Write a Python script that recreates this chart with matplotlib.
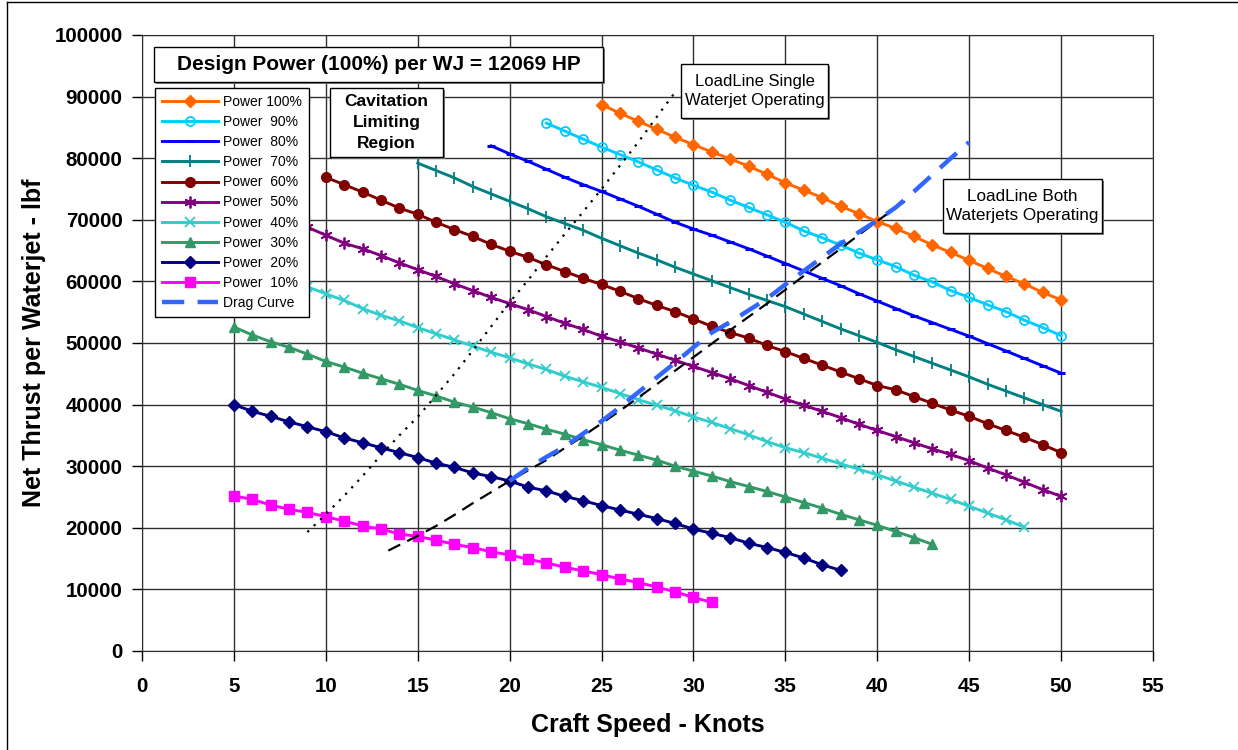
import matplotlib
matplotlib.use('Agg')
from matplotlib import pyplot as plt
from matplotlib.patches import Rectangle
from matplotlib.lines import Line2D

plt.rcParams['font.family'] = ['Liberation Sans', 'DejaVu Sans']

# Net thrust per waterjet (lbf) vs craft speed (knots), one list per power level
speed_100 = list(range(25, 51))
thrust_100 = [88700, 87300, 86000, 84700, 83400, 82200, 81000, 79900, 78700, 77400,
              76000, 74800, 73600, 72200, 71000, 69700, 68600, 67300, 65900, 64700,
              63400, 62100, 60800, 59600, 58200, 57000]

speed_90 = list(range(22, 51))
thrust_90 = [85700, 84400, 83100, 81800, 80600, 79400, 78100, 76800, 75600, 74500,
             73200, 72000, 70800, 69600, 68200, 67100, 65900, 64600, 63500, 62400,
             61000, 59900, 58500, 57400, 56200, 55100, 53700, 52500, 51200]

speed_80 = list(range(19, 51))
thrust_80 = [82000, 80700, 79500, 78200, 76900, 75700, 74600, 73400, 72200, 70900,
             69600, 68500, 67500, 66400, 65300, 64100, 62900, 61700, 60500, 59300,
             58000, 56800, 55600, 54400, 53300, 52200, 51100, 49900, 48700, 47500,
             46300, 45100]

speed_70 = list(range(15, 51))
thrust_70 = [79200, 78000, 76800, 75400, 74200, 73000, 71800, 70500, 69400, 68300,
             67000, 65800, 64600, 63500, 62300, 61200, 60100, 59000, 57900, 56900,
             55900, 54700, 53500, 52300, 51200, 50100, 48900, 47800, 46700, 45600,
             44500, 43300, 42200, 41100, 40000, 38900]

speed_60 = list(range(10, 51))
thrust_60 = [76900, 75700, 74500, 73200, 71900, 70900, 69600, 68400, 67300, 66000,
             64900, 63900, 62700, 61600, 60500, 59500, 58400, 57200, 56100, 55100,
             53900, 52700, 51700, 50800, 49600, 48600, 47500, 46400, 45300, 44200,
             43100, 42400, 41300, 40200, 39100, 38100, 36900, 35800, 34700, 33500,
             32200]

speed_50 = list(range(5, 51))
thrust_50 = [73300, 72200, 71100, 69900, 68800, 67500, 66200, 65300, 64200, 63000,
             61900, 60800, 59600, 58500, 57400, 56400, 55400, 54300, 53200, 52200,
             51100, 50200, 49200, 48200, 47200, 46200, 45200, 44200, 43100, 42000,
             40900, 39900, 38900, 37900, 36800, 35800, 34800, 33800, 32800, 31900,
             30900, 29700, 28600, 27400, 26200, 25100]

speed_40 = list(range(5, 49))
thrust_40 = [63500, 62400, 61300, 60200, 59100, 58000, 56900, 55600, 54500, 53600,
             52500, 51500, 50500, 49500, 48500, 47600, 46600, 45700, 44600, 43700,
             42800, 41800, 40800, 39900, 39000, 38000, 37100, 36100, 35100, 34000,
             33000, 32200, 31300, 30400, 29500, 28600, 27600, 26600, 25600, 24600,
             23500, 22400, 21300, 20100]

speed_30 = list(range(5, 44))
thrust_30 = [52600, 51300, 50200, 49300, 48200, 47000, 46100, 45100, 44200, 43300,
             42300, 41400, 40400, 39600, 38700, 37700, 36900, 36000, 35200, 34300,
             33500, 32600, 31800, 31000, 30000, 29200, 28400, 27500, 26700, 25900,
             25000, 24100, 23200, 22200, 21300, 20400, 19400, 18400, 17300]

speed_20 = list(range(5, 39))
thrust_20 = [40000, 38900, 38100, 37200, 36400, 35600, 34600, 33800, 33000, 32200,
             31400, 30500, 29800, 28900, 28300, 27600, 26600, 26000, 25100, 24400,
             23600, 22900, 22200, 21500, 20700, 19800, 19100, 18400, 17500, 16800,
             16000, 15100, 14000, 13100]

speed_10 = list(range(5, 32))
thrust_10 = [25200, 24600, 23700, 23000, 22500, 21800, 21100, 20300, 19800, 19000,
             18600, 18000, 17300, 16800, 16100, 15600, 14900, 14300, 13600, 13000,
             12400, 11700, 11100, 10400, 9600, 8700, 7900]

drag_speed = list(range(20, 46))
drag_thrust = [27600, 29700, 31500, 33200, 35300, 37300, 39600, 42000, 44400, 46800,
               49300, 51700, 53400, 55300, 57200, 59500, 61700, 63900, 66100, 68000,
               69900, 72000, 74600, 77300, 80000, 82600]

# load line, both waterjets operating
both_speed = [13.4, 15, 16, 17, 18, 19, 20, 22, 24, 26, 28, 30, 32, 34, 36, 38, 40, 41.5]
both_thrust = [16300, 18700, 20300, 22100, 24000, 25800, 27600, 31000, 34900, 39000,
               43300, 47700, 52100, 56400, 60900, 65300, 69800, 73000]

# load line, single waterjet operating
single_speed = list(range(9, 30))
single_thrust = [19300, 22200, 25200, 28400, 31800, 35000, 38000, 41500, 45000, 48800,
                 52700, 56600, 60200, 64000, 67700, 71300, 75000, 78800, 82600, 86700,
                 90700]

series = [
    ('Power 100%', speed_100, thrust_100, '#FF6600', dict(marker='D', ms=6.3)),
    ('Power  90%', speed_90, thrust_90, '#00CCFF', dict(marker='o', ms=6.5, mfc='none', mew=1.3)),
    ('Power  80%', speed_80, thrust_80, '#0000FF', dict(marker='_', ms=6, mew=2.2)),
    ('Power  70%', speed_70, thrust_70, '#008080', dict(marker='|', ms=8.5, mew=1.3)),
    ('Power  60%', speed_60, thrust_60, '#800000', dict(marker='o', ms=7)),
    ('Power  50%', speed_50, thrust_50, '#800080', dict(marker=(6, 2, 0), ms=8.5, mew=1.3)),
    ('Power  40%', speed_40, thrust_40, '#33CCCC', dict(marker='x', ms=6.5, mew=1.3)),
    ('Power  30%', speed_30, thrust_30, '#339966', dict(marker='^', ms=7.5)),
    ('Power  20%', speed_20, thrust_20, '#000080', dict(marker='D', ms=6.3)),
    ('Power  10%', speed_10, thrust_10, '#FF00FF', dict(marker='s', ms=7)),
]

W, H = 1238, 750
fig = plt.figure(figsize=(W / 100, H / 100), dpi=100)
ax = fig.add_axes([142 / W, 1 - 651 / H, 1011 / W, 616 / H])

for label, xs, ys, col, mk in series:
    ax.plot(xs, ys, color=col, lw=2.1, label=label, zorder=3, **mk)

ax.plot(drag_speed, drag_thrust, color='#3366FF', lw=3.2, dashes=(5, 3),
        label='Drag Curve', zorder=5)
ax.plot(both_speed, both_thrust, color='black', lw=1.6, dashes=(6, 3.5), zorder=4)
ax.plot(single_speed, single_thrust, color='black', lw=1.6, dashes=(1, 3), zorder=4)

ax.set_xlim(0, 55)
ax.set_ylim(0, 100000)
ax.set_xticks(range(0, 56, 5))
ax.set_yticks(range(0, 100001, 10000))
ax.grid(True, color='#303030', lw=1.0, zorder=0)
ax.set_axisbelow(True)
ax.tick_params(direction='out', length=7, width=1, labelsize=14.8, pad=7)
ax.tick_params(axis='x', pad=12)
for t in ax.get_xticklabels() + ax.get_yticklabels():
    t.set_fontweight('bold')
for s in ax.spines.values():
    s.set_color('#303030')

ax.set_xlabel('Craft Speed - Knots', fontsize=18, fontweight='bold', labelpad=12)
ax.set_ylabel('Net Thrust per Waterjet - lbf', fontsize=18, fontweight='bold', labelpad=6)

leg = ax.legend(loc='upper left', bbox_to_anchor=(13 / 1011, (651 - 88) / 616),
                borderaxespad=0, fontsize=10, handlelength=4.0, labelspacing=0.44,
                fancybox=False, framealpha=1, edgecolor='black',
                borderpad=0.5, handletextpad=0.4)
leg.get_frame().set_linewidth(1.0)
leg.set_zorder(10)


def box(x0, y0, x1, y1, text, **kw):
    # box given in pixel coords of the final image
    fx0, fx1 = x0 / W, x1 / W
    fy0, fy1 = 1 - y1 / H, 1 - y0 / H
    fig.patches.append(Rectangle((fx0 + 2 / W, fy0 - 2 / H), fx1 - fx0, fy1 - fy0,
                                 transform=fig.transFigure, fc='#808080', ec='none', zorder=9))
    fig.patches.append(Rectangle((fx0, fy0), fx1 - fx0, fy1 - fy0, transform=fig.transFigure,
                                 fc='white', ec='black', lw=1.0, zorder=10))
    fig.text((fx0 + fx1) / 2, (fy0 + fy1) / 2, text, ha='center', va='center',
             zorder=11, **kw)


box(154, 47, 603, 82, 'Design Power (100%) per WJ = 12069 HP', fontsize=15, fontweight='bold')
box(330, 88, 443, 157, 'Cavitation\nLimiting\nRegion', fontsize=12.5, fontweight='bold',
    linespacing=1.5)
box(681, 64, 828, 118, 'LoadLine Single\nWaterjet Operating', fontsize=12, linespacing=1.4)
box(943, 179, 1102, 233, 'LoadLine Both\nWaterjets Operating', fontsize=12.3, linespacing=1.4)

# outer frame of the chart area
fig.add_artist(Line2D([7 / W, 7 / W], [0, 1 - 2 / H], color='black', lw=1))
fig.add_artist(Line2D([7 / W, 1], [1 - 2 / H, 1 - 2 / H], color='black', lw=1))

fig.savefig('out.png', dpi=100)
